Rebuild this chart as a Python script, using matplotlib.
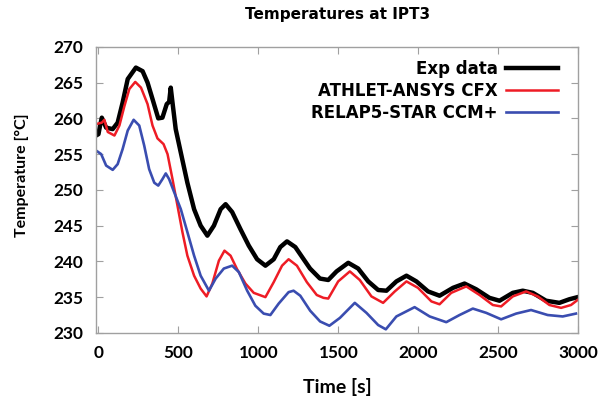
import matplotlib.pyplot as plt

plt.rcParams['font.family'] = ['Lato', 'DejaVu Sans']
plt.rcParams['font.weight'] = 'bold'

# measured temperatures at IPT3
t_exp = [-15, 0, 10, 21, 48, 89, 120, 151, 183, 234, 276, 307, 338, 374, 400,
         427, 442, 452, 463, 483, 515, 556, 598, 639, 681, 722, 764, 795, 836,
         888, 940, 992, 1044, 1096, 1137, 1179, 1231, 1283, 1323, 1385, 1437,
         1489, 1562, 1624, 1687, 1749, 1801, 1863, 1926, 1988, 2061, 2133,
         2217, 2289, 2362, 2445, 2508, 2591, 2653, 2716, 2799, 2882, 2944, 2996]
T_exp = [257.6, 257.8, 259.0, 260.1, 258.7, 258.5, 259.4, 262.2, 265.5, 267.1,
         266.6, 265.0, 262.7, 260.0, 260.1, 262.0, 262.3, 264.3, 262.2, 258.5,
         255.2, 251.0, 247.3, 245.0, 243.6, 245.0, 247.3, 248.0, 246.9, 244.5,
         242.2, 240.3, 239.4, 240.3, 242.0, 242.8, 242.0, 240.3, 239.0, 237.6,
         237.4, 238.6, 239.8, 239.0, 237.2, 236.0, 235.9, 237.2, 238.0, 237.2,
         235.8, 235.2, 236.3, 236.9, 236.1, 234.9, 234.5, 235.6, 235.9, 235.6,
         234.5, 234.2, 234.7, 235.0]

# ATHLET-ANSYS CFX
t_cfx = [-15, 21, 37, 58, 100, 131, 162, 193, 230, 266, 307, 338, 369, 407, 432,
         463, 494, 525, 556, 598, 639, 676, 712, 753, 788, 826, 867, 919, 971,
         1044, 1096, 1148, 1189, 1241, 1303, 1365, 1407, 1437, 1499, 1572, 1634,
         1707, 1780, 1853, 1926, 1998, 2082, 2133, 2206, 2300, 2383, 2466, 2518,
         2591, 2674, 2747, 2820, 2893, 2955, 2996]
T_cfx = [259.2, 259.4, 259.8, 258.1, 257.6, 259.0, 261.7, 264.1, 265.1, 264.3,
         262.0, 259.0, 257.2, 256.4, 255.0, 251.5, 247.8, 244.1, 240.8, 238.0,
         236.2, 235.1, 236.9, 240.1, 241.5, 240.8, 238.9, 236.9, 235.6, 235.0,
         237.1, 239.4, 240.3, 239.4, 237.1, 235.3, 234.9, 234.8, 237.2, 238.6,
         237.4, 235.1, 234.2, 235.8, 237.2, 236.3, 234.4, 234.0, 235.6, 236.5,
         235.3, 233.9, 233.7, 235.1, 235.8, 235.1, 233.9, 233.5, 233.9, 234.6]

# RELAP5-STAR CCM+
t_ccm = [-15, 17, 48, 89, 120, 151, 183, 220, 255, 286, 317, 349, 374, 400, 421,
         442, 473, 515, 556, 598, 639, 691, 733, 784, 836, 878, 930, 981, 1033,
         1075, 1127, 1189, 1220, 1262, 1324, 1386, 1444, 1510, 1603, 1676, 1749,
         1797, 1863, 1977, 2071, 2175, 2258, 2341, 2425, 2518, 2612, 2705, 2809,
         2903, 2986]
T_ccm = [255.5, 255.0, 253.4, 252.8, 253.6, 255.7, 258.3, 259.8, 259.0, 256.2,
         252.9, 251.0, 250.6, 251.5, 252.3, 251.5, 249.7, 247.3, 244.1, 240.8,
         238.0, 235.9, 237.6, 239.0, 239.4, 238.5, 235.9, 233.8, 232.7, 232.5,
         234.1, 235.7, 235.9, 235.2, 233.1, 231.6, 231.0, 232.1, 234.2, 232.8,
         231.1, 230.5, 232.3, 233.6, 232.3, 231.5, 232.5, 233.4, 232.8, 231.9,
         232.7, 233.2, 232.5, 232.3, 232.7]

fig = plt.figure(figsize=(6.08, 4.04), dpi=100)
ax = fig.add_axes([0.158, 0.176, 0.793, 0.708])

ax.plot(t_exp, T_exp, color='black', lw=3.2, solid_joinstyle='round', label='Exp data')
ax.plot(t_cfx, T_cfx, color='#ee1c25', lw=1.8, solid_joinstyle='round', label='ATHLET-ANSYS CFX')
ax.plot(t_ccm, T_ccm, color='#3a4db0', lw=1.9, solid_joinstyle='round', label='RELAP5-STAR CCM+')

ax.set_xlim(-15, 3000)
ax.set_ylim(230, 270)
ax.set_xticks(range(0, 3001, 500))
ax.set_yticks(range(230, 271, 5))

for s in ax.spines.values():
    s.set_color('#a0a0a0')
    s.set_linewidth(1.0)
ax.tick_params(direction='in', length=5, color='#a0a0a0', top=True, right=True,
               labelsize=12.4, pad=9)

ax.set_title('Temperatures at IPT3', fontsize=11, fontweight='bold',
             family='DejaVu Sans', pad=20)
ax.set_xlabel('Time [s]', fontsize=14, fontweight='bold', labelpad=12)
ax.set_ylabel('Temperature [°C]', fontsize=11.5, fontweight='bold')
ax.yaxis.set_label_coords(-0.139, 0.55)

ax.legend(loc='upper right', bbox_to_anchor=(0.958, 0.953), frameon=False,
          markerfirst=False,
          prop={'family': 'DejaVu Sans', 'weight': 'bold', 'size': 12},
          handlelength=3.1, labelspacing=0.22, borderpad=0, borderaxespad=0,
          handletextpad=0.5)

fig.savefig('out.png', dpi=100)
